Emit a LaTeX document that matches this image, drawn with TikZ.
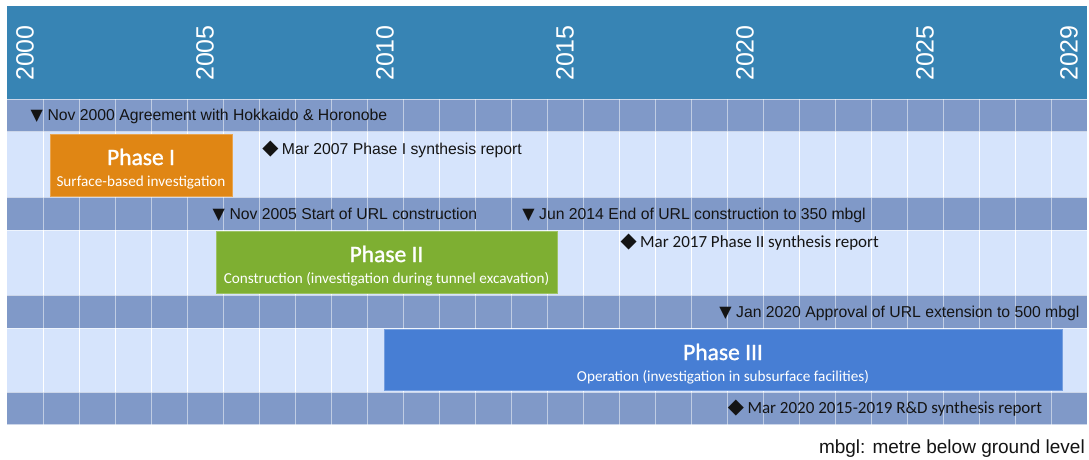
\documentclass[tikz,border=0pt]{standalone}
\usepackage{fontspec}
\setmainfont{Liberation Sans}
\newfontfamily\hum{Carlito}
\newfontfamily\humsemi[FakeBold=1.3]{Carlito}
\newfontfamily\sym{DejaVu Sans}
\definecolor{hdr}{RGB}{55,132,180}
\definecolor{darkrow}{RGB}{128,153,200}
\definecolor{lightrow}{RGB}{214,228,252}
\definecolor{phaseone}{RGB}{224,134,20}
\definecolor{phasetwo}{RGB}{126,175,50}
\definecolor{phasethree}{RGB}{71,126,212}
\definecolor{txt}{RGB}{20,20,20}
\newcommand{\tri}{\llap{{\sym\fontsize{16}{16}\selectfont ▼}\hspace{4.5pt}}}
\newcommand{\dia}{\llap{{\sym\fontsize{21}{21}\selectfont ◆}\hspace{3.5pt}}}
\tikzset{
  yearlabel/.style={rotate=90,text=white,inner sep=0pt,font=\fontsize{25}{25}\selectfont},
  mstone/.style={anchor=base west,inner sep=0pt,text=txt,font=\fontsize{15.75}{18}\selectfont},
  mstonehum/.style={anchor=base west,inner sep=0pt,text=txt,font=\hum\fontsize{17}{19}\selectfont},
  phasebox/.style={anchor=north west,inner sep=0pt,line width=0.8pt},
  phasetitle/.style={anchor=base,inner sep=0pt,text=white,font=\humsemi\fontsize{23.5}{26}\selectfont},
  phasesub/.style={anchor=base,inner sep=0pt,text=white,font=\hum\fontsize{15.2}{17}\selectfont},
  note/.style={anchor=base east,inner sep=0pt,text=txt,font=\fontsize{19}{21}\selectfont}
}
\begin{document}
\begin{tikzpicture}[x=1pt,y=-1pt]
\useasboundingbox (0,0) rectangle (1089,459);
\fill[white] (0,0) rectangle (1089,459);
% header
\fill[hdr] (7,6) rectangle (1087,99);
\foreach \yr/\i in {2000/0,2005/5,2010/10,2015/15,2020/20,2025/25,2029/29}
  \node[yearlabel] (y\yr) at (25+36*\i,53) {\yr};
% rows
\foreach \t/\b/\c/\op in {99/131.5/darkrow/0.5,131.5/197/lightrow/1,197/230/darkrow/0.5,230/295/lightrow/1,295/328/darkrow/0.5,328/392/lightrow/1,392/424.5/darkrow/0.5}{
  \fill[\c] (7,\t) rectangle (1087,\b);
  \foreach \i in {1,...,29}
    \draw[white,opacity=\op,line width=1pt] (7+36*\i,\t) -- (7+36*\i,\b);
  \draw[white,opacity=0.6,line width=1pt] (7,\t) -- (1087,\t);
}
\draw[white,opacity=0.6,line width=1pt] (7,424.5) -- (1087,424.5);
% phase boxes
\node[phasebox,fill=phaseone,draw=phaseone!75!white,minimum width=182pt,minimum height=62pt] (p1) at (50,134) {};
\node[phasetitle] (p1t) at (141,165) {Phase I};
\node[phasesub] (p1s) at (141,186) {Surface-based investigation};
\node[phasebox,fill=phasetwo,draw=phasetwo!75!white,minimum width=341pt,minimum height=62pt] (p2) at (216,231) {};
\node[phasetitle] (p2t) at (386.5,262) {Phase II};
\node[phasesub] (p2s) at (386.5,283) {Construction (investigation during tunnel excavation)};
\node[phasebox,fill=phasethree,draw=phasethree!75!white,minimum width=678pt,minimum height=61pt] (p3) at (384,329) {};
\node[phasetitle] (p3t) at (723,360) {Phase III};
\node[phasesub] (p3s) at (723,381) {Operation (investigation in subsurface facilities)};
% milestones
\node[mstone] (m1) at (47.3,120.7) {\tri Nov 2000 Agreement with Hokkaido \& Horonobe};
\node[mstone] (m2) at (281.7,154.3) {\dia Mar 2007 Phase I synthesis report};
\node[mstone] (m3) at (229.3,219.3) {\tri Nov 2005 Start of URL construction};
\node[mstone] (m4) at (539,219.3) {\tri Jun 2014 End of URL construction to 350 mbgl};
\node[mstonehum] (m5) at (640,247.3) {\dia Mar 2017 Phase II synthesis report};
\node[mstone] (m6) at (736,317.3) {\tri Jan 2020 Approval of URL extension to 500 mbgl};
\node[mstonehum] (m7) at (747.3,413.3) {\dia Mar 2020 2015-2019 R\&D synthesis report};
% note
\node[note] (nt) at (1085,453.3) {mbgl: metre below ground level};
\end{tikzpicture}
\end{document}
